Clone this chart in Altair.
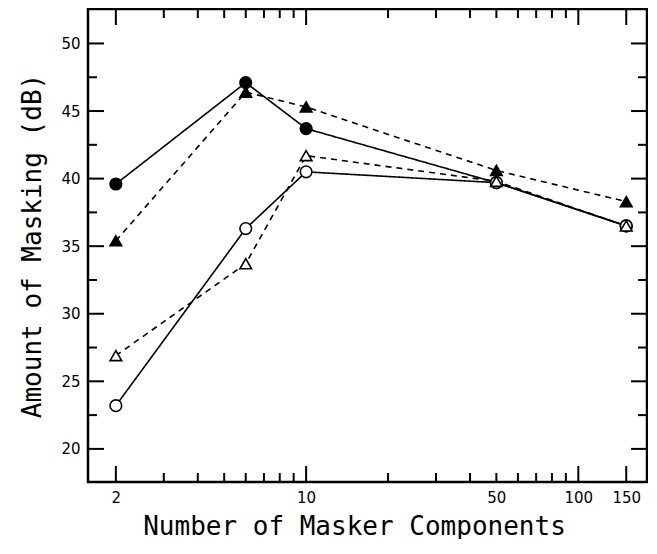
import altair as alt
import pandas as pd

# Data
components = [2, 6, 10, 50, 150]
filled_circle = [39.6, 47.1, 43.7, 39.7, 36.5]
open_circle = [23.2, 36.3, 40.5, 39.7, 36.5]
filled_triangle = [35.4, 46.4, 45.3, 40.6, 38.3]
open_triangle = [26.9, 33.7, 41.7, 39.8, 36.5]

x_labels = [2, 10, 50, 100, 150]
x_major_ticks = [2, 10, 100, 150]
x_minor_ticks = [3, 4, 5, 6, 7, 8, 9, 20, 30, 40, 50, 60, 70, 80, 90]
y_labels = [20, 25, 30, 35, 40, 45, 50]
y_minor_ticks = [22.5, 27.5, 32.5, 37.5, 42.5, 47.5]

W, H = 559, 473
MAJ, MIN = 16, 9
FONT = "DejaVu Sans"
TFONT = "DejaVu Sans Mono"

series = [
    ("fc", filled_circle, "circle", "filled", "solid"),
    ("oc", open_circle, "circle", "open", "solid"),
    ("ft", filled_triangle, "triangle", "filled", "dashed"),
    ("ot", open_triangle, "triangle", "open", "dashed"),
]
rows = []
for name, vals, shape, fill, dash in series:
    for x, y in zip(components, vals):
        rows.append({"series": name, "x": x, "y": y, "shape": shape, "fill": fill, "dash": dash})
df = pd.DataFrame(rows)

xscale = alt.Scale(type="log", domain=[1.58, 178.8], nice=False)
yscale = alt.Scale(domain=[17.55, 52.55], nice=False, zero=False)

xaxis = alt.Axis(values=x_labels, labelExpr="datum.value", ticks=False, domain=False,
                 grid=False, labelPadding=8, labelFont=FONT, labelFontSize=15, labelColor="black",
                 labelFlush=False,
                 title="Number of Masker Components", titleFont=TFONT, titleFontSize=26,
                 titleFontWeight="normal", titleColor="black", titlePadding=8, titleX=266)
yaxis = alt.Axis(values=y_labels, ticks=False, domain=False, grid=False,
                 labelPadding=8, labelFont=FONT, labelFontSize=15, labelColor="black",
                 title="Amount of Masking (dB)", titleFont=TFONT, titleFontSize=26,
                 titleFontWeight="normal", titleColor="black", titlePadding=15)

lines = alt.Chart(df).mark_line(color="black", strokeWidth=1.6).encode(
    x=alt.X("x:Q", scale=xscale, axis=xaxis),
    y=alt.Y("y:Q", scale=yscale, axis=yaxis),
    detail="series:N",
    strokeDash=alt.StrokeDash("dash:N", scale=alt.Scale(domain=["solid", "dashed"], range=[[1, 0], [6, 5]]),
                              legend=None),
)

points = alt.Chart(df).mark_point(filled=True, stroke="black", strokeWidth=1.6, size=135, opacity=1).encode(
    x=alt.X("x:Q", scale=xscale),
    y=alt.Y("y:Q", scale=yscale),
    shape=alt.Shape("shape:N", scale=alt.Scale(domain=["circle", "triangle"], range=["circle", "triangle-up"]),
                    legend=None),
    fill=alt.Fill("fill:N", scale=alt.Scale(domain=["filled", "open"], range=["black", "white"]), legend=None),
)

xt_major = pd.DataFrame({"v": x_major_ticks})
xt_minor = pd.DataFrame({"v": x_minor_ticks})
yt_major = pd.DataFrame({"v": y_labels})
yt_minor = pd.DataFrame({"v": y_minor_ticks})

def xticks(data, length):
    enc_x = alt.X("v:Q", scale=xscale)
    b = alt.Chart(data).mark_rule(color="black", strokeWidth=2).encode(
        x=enc_x, y=alt.value(H), y2=alt.value(H - length))
    t = alt.Chart(data).mark_rule(color="black", strokeWidth=2).encode(
        x=enc_x, y=alt.value(0), y2=alt.value(length))
    return [b, t]

def yticks(data, length):
    enc_y = alt.Y("v:Q", scale=yscale)
    l = alt.Chart(data).mark_rule(color="black", strokeWidth=2).encode(
        y=enc_y, x=alt.value(0), x2=alt.value(length))
    r = alt.Chart(data).mark_rule(color="black", strokeWidth=2).encode(
        y=enc_y, x=alt.value(W), x2=alt.value(W - length))
    return [l, r]

layers = [lines, points] + xticks(xt_major, MAJ) + xticks(xt_minor, MIN) + yticks(yt_major, MAJ) + yticks(yt_minor, MIN)

chart = alt.layer(*layers).properties(
    width=W, height=H,
    padding={"left": 11, "top": 0, "right": 0, "bottom": 0},
).configure(background="white").configure_view(stroke="black", strokeWidth=2.5)

chart.save("out.html", embed_options={"renderer": "svg", "actions": False})
